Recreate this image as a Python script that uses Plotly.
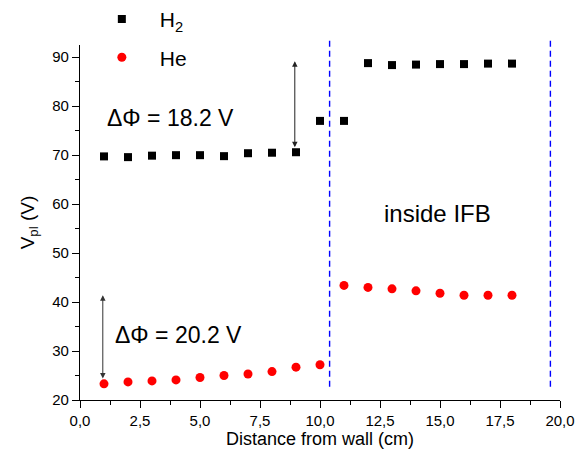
import plotly.graph_objects as go

x_h2 = [1, 2, 3, 4, 5, 6, 7, 8, 9, 10, 11, 12, 13, 14, 15, 16, 17, 18]
y_h2 = [69.75, 69.6, 69.9, 70.0, 70.0, 69.8, 70.4, 70.5, 70.6, 77.0, 77.0,
        88.8, 88.4, 88.5, 88.6, 88.6, 88.7, 88.7]
x_he = [1, 2, 3, 4, 5, 6, 7, 8, 9, 10, 11, 12, 13, 14, 15, 16, 17, 18]
y_he = [23.3, 23.7, 23.9, 24.1, 24.6, 25.0, 25.3, 25.8, 26.7, 27.2,
        43.4, 43.0, 42.7, 42.3, 41.8, 41.4, 41.4, 41.4]

xtick_vals = [0, 2.5, 5, 7.5, 10, 12.5, 15, 17.5, 20]
xtick_text = ["0,0", "2,5", "5,0", "7,5", "10,0", "12,5", "15,0", "17,5", "20,0"]
ytick_vals = [20, 30, 40, 50, 60, 70, 80, 90]
boundaries = [10.4, 19.6]

FONT = "Liberation Sans, Arial, sans-serif"

fig = go.Figure()
fig.add_trace(go.Scatter(x=x_h2, y=y_h2, mode="markers", name="H<sub>2</sub>",
                         legendgroup="a",
                         marker=dict(symbol="square", size=8, color="black")))
fig.add_trace(go.Scatter(x=x_he, y=y_he, mode="markers", name="He",
                         legendgroup="b",
                         marker=dict(symbol="circle", size=9, color="red")))

for b in boundaries:
    fig.add_shape(type="line", xref="x", yref="paper", x0=b, x1=b, y0=0.037, y1=1.02,
                  line=dict(color="blue", width=1.4, dash="6px,4px"))

# arrows
fig.add_annotation(x=8.95, y=89.2, ax=8.95, ay=71.3, xref="x", yref="y", axref="x", ayref="y",
                   text="", showarrow=True, arrowhead=2, startarrowhead=2,
                   arrowside="end+start", arrowwidth=1, arrowsize=1.1, startarrowsize=1.1,
                   arrowcolor="#222")
fig.add_annotation(x=0.95, y=41.4, ax=0.95, ay=24.1, xref="x", yref="y", axref="x", ayref="y",
                   text="", showarrow=True, arrowhead=2, startarrowhead=2,
                   arrowside="end+start", arrowwidth=1, arrowsize=1.1, startarrowsize=1.1,
                   arrowcolor="#333")

fig.add_annotation(x=1.04, y=77.6, xref="x", yref="y", text="ΔΦ = 18.2 V", showarrow=False,
                   xanchor="left", font=dict(family=FONT, size=23, color="black"))
fig.add_annotation(x=1.375, y=33.2, xref="x", yref="y", text="ΔΦ = 20.2 V", showarrow=False,
                   xanchor="left", font=dict(family=FONT, size=23, color="black"))
fig.add_annotation(x=12.6, y=58.1, xref="x", yref="y", text="inside IFB", showarrow=False,
                   xanchor="left", font=dict(family=FONT, size=24, color="black"))

fig.update_layout(
    width=575, height=457,
    margin=dict(l=72, r=23, t=37, b=65, autoexpand=False),
    plot_bgcolor="white", paper_bgcolor="white",
    font=dict(family=FONT, size=15, color="black"),
    showlegend=True,
    legend=dict(x=0.008, y=1.13, xanchor="left", yanchor="top",
                font=dict(family=FONT, size=21), bgcolor="rgba(0,0,0,0)",
                itemwidth=66,
                traceorder="grouped", tracegroupgap=8),
    xaxis=dict(range=[0, 20], showline=True, linecolor="black", linewidth=1.2,
               showgrid=False, zeroline=False, ticks="outside", ticklen=7, tickcolor="black",
               tickvals=xtick_vals, ticktext=xtick_text,
               minor=dict(ticks="outside", dtick=1.25, tick0=0, ticklen=4, tickcolor="black"),
               title=dict(text="Distance from wall (cm)", font=dict(size=18), standoff=4)),
    yaxis=dict(range=[20, 92.5], showline=True, linecolor="black", linewidth=1.2,
               showgrid=False, zeroline=False, ticks="outside", ticklen=7, tickcolor="black",
               tickvals=ytick_vals,
               minor=dict(ticks="outside", dtick=5, tick0=0, ticklen=4, tickcolor="black"),
               title=dict(text="V<sub>pl</sub> (V)", font=dict(size=19), standoff=12)),
)

fig.write_html("out.html")
